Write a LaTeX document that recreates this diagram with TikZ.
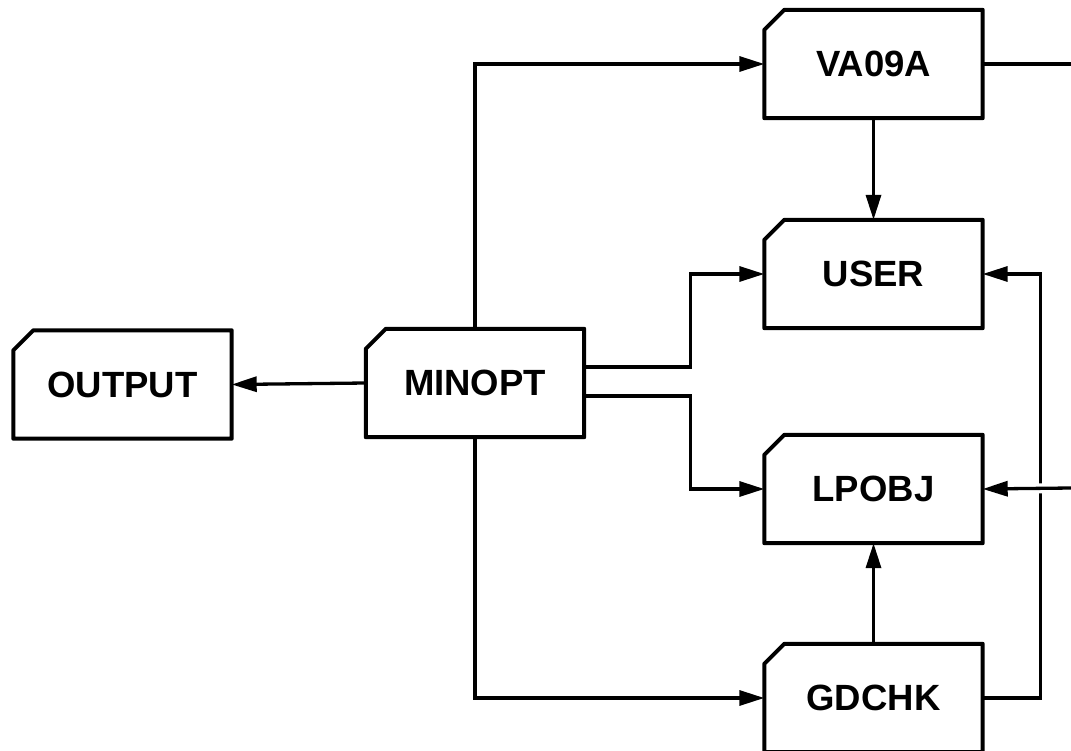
\documentclass[tikz,border=0pt]{standalone}
\usepackage{fontspec}
\setmainfont{Liberation Sans}
\usetikzlibrary{arrows.meta}
\tikzset{
  card/.style={draw=none, inner sep=0pt, minimum width=218pt, minimum height=108pt,
    font=\fontsize{36.5}{40}\selectfont\bfseries},
  cardline/.style={line width=4pt, line join=round},
  conn/.style={line width=3.3pt},
  arr/.style={conn, -{Triangle[length=25pt,width=15pt]}},
}
\begin{document}
\begin{tikzpicture}[x=1pt,y=-1pt]
\useasboundingbox (0,0) rectangle (1071,751);
\node[card] (output) at (122.5,384.5) {OUTPUT};
\node[card] (minopt) at (475,383) {MINOPT};
\node[card] (va) at (873.5,64) {VA09A};
\node[card] (user) at (873.5,274) {USER};
\node[card] (lp) at (873.5,489) {LPOBJ};
\node[card] (gd) at (873.5,698) {GDCHK};
\foreach \n in {output,minopt,va,user,lp,gd}
  \draw[cardline] ([yshift=-20pt]\n.north west) -- ([xshift=20pt]\n.north west)
    -- (\n.north east) -- (\n.south east) -- (\n.south west) -- cycle;
\coordinate (vaend) at (1071,64);
\coordinate (lpin) at (1071,488);
% connectors
\draw[arr] (minopt.west) -- (output.west -| output.east);
\draw[arr] (minopt.north) |- (va.west);
\draw[arr] (minopt.south) |- (gd.west);
\draw[arr] ([yshift=16pt]minopt.east) -- ++(106,0) |- (user.west);
\draw[arr] ([yshift=-13pt]minopt.east) -- ++(106,0) |- (lp.west);
\draw[conn] (va.east) -- (vaend);
\draw[arr] (va.south) -- (user.north);
\draw[arr] (gd.north) -- (lp.south);
\draw[arr] (gd.east) -- ++(58,0) |- (user.east);
\draw[white, line width=10pt, shorten >=40pt] (lpin) -- (lp.east);
\draw[arr] (lpin) -- (lp.east);
\end{tikzpicture}
\end{document}
